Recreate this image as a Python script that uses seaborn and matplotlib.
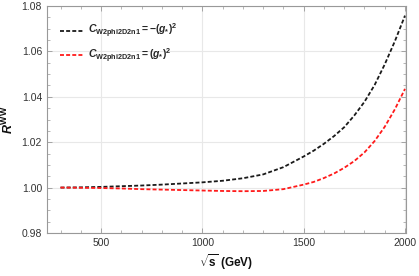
import matplotlib
matplotlib.use('Agg')
import matplotlib.pyplot as plt
from matplotlib.ticker import MultipleLocator
import seaborn as sns
import pandas as pd

# sqrt(s) in GeV and the two R^WW curves
energy = [300, 400, 500, 600, 700, 800, 900, 1000, 1100, 1200, 1300, 1400,
          1500, 1550, 1600, 1650, 1700, 1750, 1800, 1850, 1900, 1950, 2000]
r_minus = [1.0000, 1.0001, 1.0003, 1.0006, 1.0009, 1.0013, 1.0018, 1.0023, 1.0030, 1.0041, 1.0058, 1.0090,
           1.0137, 1.0163, 1.0193, 1.0227, 1.0266, 1.0318, 1.0378, 1.0452, 1.0543, 1.0645, 1.0758]
r_plus = [1.0000, 0.9999, 0.9998, 0.9996, 0.9993, 0.9991, 0.9989, 0.9987, 0.9985, 0.9984, 0.9985, 0.9993,
          1.0013, 1.0025, 1.0042, 1.0062, 1.0087, 1.0117, 1.0155, 1.0205, 1.0268, 1.0345, 1.0435]

labels = [r"$C_{\mathrm{W2phi2D2n1}}\mathrm{=-(}g_{*}\mathrm{)}^{2}$",
          r"$C_{\mathrm{W2phi2D2n1}}\mathrm{=(}g_{*}\mathrm{)}^{2}$"]
colors = ["#1a1a1a", "#ff1a1a"]

sns.set_style("ticks")
plt.rcParams['font.family'] = ['Liberation Sans', 'DejaVu Sans']
plt.rcParams['mathtext.fontset'] = 'custom'
plt.rcParams['mathtext.rm'] = 'Liberation Sans:bold'
plt.rcParams['mathtext.it'] = 'Liberation Sans:bold:italic'
plt.rcParams['mathtext.bf'] = 'Liberation Sans:bold'

df = pd.DataFrame({
    "E": energy * 2,
    "R": r_minus + r_plus,
    "curve": [labels[0]] * len(energy) + [labels[1]] * len(energy),
})

fig = plt.figure(figsize=(4.19, 2.76), dpi=100)
ax = fig.add_axes([0.112, 0.156, 0.857, 0.822])

for lab, col in zip(labels, colors):
    sub = df[df["curve"] == lab]
    sns.lineplot(data=sub, x="E", y="R", ax=ax, color=col, label=lab,
                 linewidth=1.3, linestyle=(0, (2.2, 1.2)))

ax.set_xlim(233, 2005)
ax.set_ylim(0.98, 1.08)
ax.xaxis.set_major_locator(MultipleLocator(500))
ax.xaxis.set_minor_locator(MultipleLocator(100))
ax.yaxis.set_major_locator(MultipleLocator(0.02))
ax.yaxis.set_minor_locator(MultipleLocator(0.005))
ax.yaxis.set_major_formatter(matplotlib.ticker.FormatStrFormatter('%.2f'))

ax.grid(True, which='major', color='#e8e8e8', linewidth=0.8)
ax.tick_params(which='both', direction='in', top=True, right=True,
               labelsize=7.5, colors='#999999', labelcolor='#333333')
ax.tick_params(which='major', length=3.5, width=0.6)
ax.tick_params(which='minor', length=2, width=0.5)
for s in ax.spines.values():
    s.set_color('#999999')
    s.set_linewidth(0.8)

ax.set_xlabel(r"$\sqrt{\mathrm{s}}\ \mathrm{(GeV)}$", fontsize=8.5, color='#111111', labelpad=3)
ax.set_ylabel(r"$R^{\mathrm{WW}}$", fontsize=9, color='#111111', labelpad=4)

leg = ax.legend(loc='upper left', bbox_to_anchor=(0.01, 0.97), frameon=False,
                fontsize=7.5, handlelength=2.2, handletextpad=0.5, labelspacing=0.6)

fig.savefig("out.png", dpi=100)
